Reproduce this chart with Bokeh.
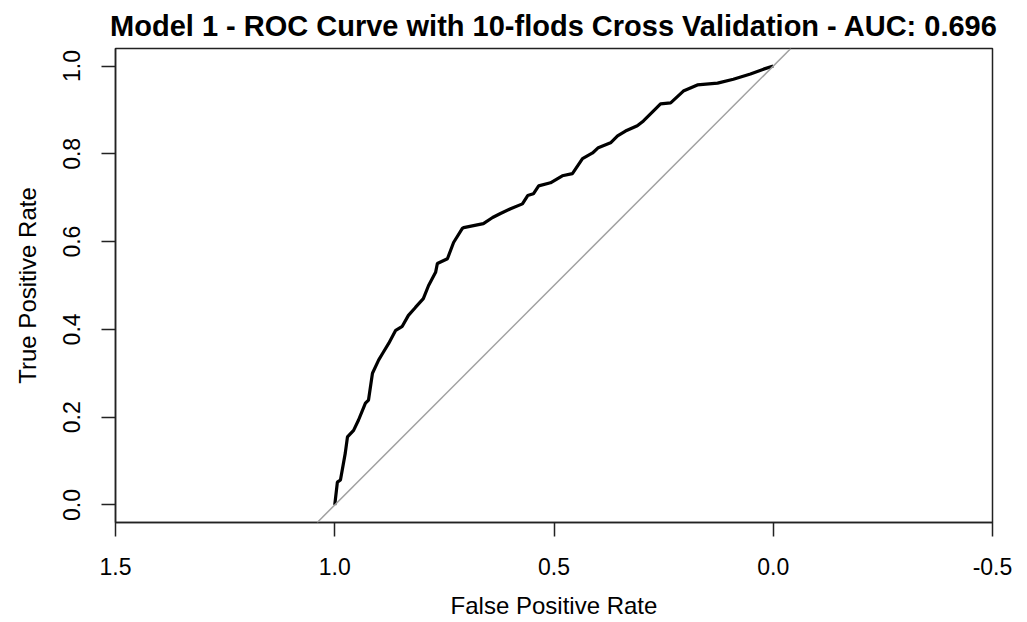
from bokeh.plotting import figure
from bokeh.models import Range1d, FixedTicker, Slope
from bokeh.embed import file_html
from bokeh.resources import INLINE

title_text = "Model 1 - ROC Curve with 10-flods Cross Validation - AUC: 0.696"
x_label = "False Positive Rate"
y_label = "True Positive Rate"

x_ticks = [1.5, 1.0, 0.5, 0.0, -0.5]
x_tick_labels = ["1.5", "1.0", "0.5", "0.0", "-0.5"]
y_ticks = [0.0, 0.2, 0.4, 0.6, 0.8, 1.0]
y_tick_labels = ["0.0", "0.2", "0.4", "0.6", "0.8", "1.0"]

specificity = [1.0, 0.994, 0.987, 0.976, 0.971, 0.957, 0.946, 0.930, 0.923, 0.914,
               0.900, 0.891, 0.877, 0.861, 0.846, 0.832, 0.816, 0.798, 0.786, 0.770,
               0.766, 0.743, 0.729, 0.709, 0.706, 0.661, 0.640, 0.622, 0.599, 0.572,
               0.560, 0.547, 0.535, 0.508, 0.481, 0.458, 0.435, 0.412, 0.399, 0.371,
               0.355, 0.337, 0.310, 0.296, 0.273, 0.257, 0.234, 0.205, 0.173, 0.127,
               0.091, 0.052, 0.022, 0.0]
sensitivity = [0.0, 0.052, 0.057, 0.118, 0.155, 0.170, 0.193, 0.232, 0.239, 0.300,
               0.330, 0.345, 0.368, 0.398, 0.407, 0.432, 0.450, 0.470, 0.500, 0.530,
               0.550, 0.561, 0.598, 0.630, 0.632, 0.641, 0.655, 0.664, 0.675, 0.686,
               0.705, 0.709, 0.727, 0.734, 0.750, 0.755, 0.789, 0.802, 0.814, 0.825,
               0.841, 0.852, 0.864, 0.875, 0.898, 0.914, 0.916, 0.943, 0.957, 0.961,
               0.970, 0.982, 0.993, 1.0]

FONT = "Liberation Sans"

p = figure(width=1027, height=622, output_backend="svg", toolbar_location=None,
           x_range=Range1d(1.5, -0.5), y_range=Range1d(-0.04, 1.04),
           title=title_text,
           min_border_left=115, min_border_right=35, min_border_top=48, min_border_bottom=100)

p.title.text_font = FONT
p.title.text_font_size = "29px"
p.title.text_font_style = "bold"
p.title.align = "center"
p.title.vertical_align = "top"
p.title.text_color = "black"
p.title.standoff = 10

p.grid.visible = False
p.background_fill_color = "white"
p.border_fill_color = "white"
p.outline_line_color = "#222222"
p.outline_line_width = 1.5
p.outline_line_alpha = 1.0

for ax in (p.xaxis[0], p.yaxis[0]):
    ax.axis_line_color = "#222222"
    ax.axis_line_width = 1.5
    ax.major_tick_line_color = "#222222"
    ax.major_tick_line_width = 1.5
    ax.major_tick_out = 14
    ax.major_tick_in = 0
    ax.minor_tick_line_color = None
    ax.major_label_text_font = FONT
    ax.major_label_text_font_size = "23px"
    ax.major_label_text_color = "black"
    ax.axis_label_text_font = FONT
    ax.axis_label_text_font_size = "24px"
    ax.axis_label_text_font_style = "normal"
    ax.axis_label_text_color = "black"

p.xaxis[0].ticker = FixedTicker(ticks=x_ticks)
p.xaxis[0].major_label_overrides = dict(zip(x_ticks, x_tick_labels))
p.xaxis[0].axis_label = x_label
p.xaxis[0].major_label_standoff = 21
p.xaxis[0].axis_label_standoff = 14

p.yaxis[0].ticker = FixedTicker(ticks=y_ticks)
p.yaxis[0].major_label_overrides = dict(zip(y_ticks, y_tick_labels))
p.yaxis[0].major_label_orientation = "vertical"
p.yaxis[0].axis_label = y_label
p.yaxis[0].major_label_standoff = 21
p.yaxis[0].axis_label_standoff = 20

p.add_layout(Slope(gradient=-1, y_intercept=1, line_color="#a0a0a0", line_width=1.5))
p.line(specificity, sensitivity, line_color="black", line_width=3.2)

open("out.html", "w").write(file_html(p, INLINE))
